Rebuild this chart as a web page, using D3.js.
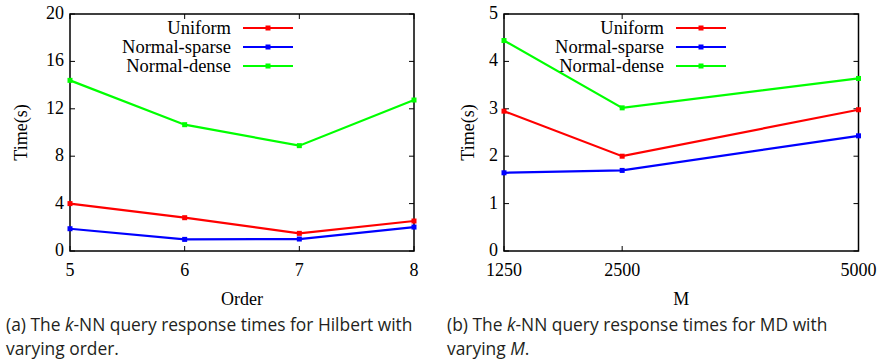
<!DOCTYPE html>
<html><head><meta charset="utf-8">
<script src="https://cdn.jsdelivr.net/npm/d3@7"></script>
<style>
body{margin:0;background:#fff;}
svg{display:block;}
</style></head>
<body>
<svg id="c" width="882" height="360"></svg>
<script>
const seriesNames = ["Uniform", "Normal-sparse", "Normal-dense"];
const seriesColors = ["#ff0000", "#0000ff", "#00ff00"];

// Chart (a)
const orderX = [5, 6, 7, 8];
const orderUniform = [4.0, 2.81, 1.49, 2.53];
const orderSparse = [1.88, 0.98, 1.01, 2.02];
const orderDense = [14.4, 10.66, 8.89, 12.74];
const orderYTicks = [0, 4, 8, 12, 16, 20];

// Chart (b)
const mX = [1250, 2500, 5000];
const mUniform = [2.95, 2.00, 2.98];
const mSparse = [1.65, 1.70, 2.43];
const mDense = [4.44, 3.02, 3.64];
const mYTicks = [0, 1, 2, 3, 4, 5];

const svg = d3.select("#c");
const serif = "'Liberation Serif','Times New Roman',serif";
const sans = "'Open Sans','Noto Sans',sans-serif";

function panel(cfg){
  const g = svg.append("g");
  const x = d3.scaleLinear().domain(cfg.xDomain).range([cfg.left, cfg.right]);
  const y = d3.scaleLinear().domain(cfg.yDomain).range([cfg.bottom, cfg.top]);
  const tl = 5;
  const ax = g.append("g").attr("stroke","#000").attr("stroke-width",1);
  cfg.xTicks.forEach(t=>{
    ax.append("line").attr("x1",x(t)).attr("x2",x(t)).attr("y1",cfg.bottom).attr("y2",cfg.bottom-tl);
    ax.append("line").attr("x1",x(t)).attr("x2",x(t)).attr("y1",cfg.top).attr("y2",cfg.top+tl);
  });
  cfg.yTicks.forEach(t=>{
    ax.append("line").attr("x1",cfg.left).attr("x2",cfg.left+tl).attr("y1",y(t)).attr("y2",y(t));
    ax.append("line").attr("x1",cfg.right).attr("x2",cfg.right-tl).attr("y1",y(t)).attr("y2",y(t));
  });
  g.append("rect").attr("x",cfg.left).attr("y",cfg.top)
    .attr("width",cfg.right-cfg.left).attr("height",cfg.bottom-cfg.top)
    .attr("fill","none").attr("stroke","#000").attr("stroke-width",1.5);
  cfg.xTicks.forEach(t=>{
    g.append("text").attr("x",x(t)).attr("y",cfg.bottom+25).attr("text-anchor","middle")
      .attr("font-family",serif).attr("font-size",18).text(t);
  });
  cfg.yTicks.forEach(t=>{
    g.append("text").attr("x",cfg.left-6).attr("y",y(t)+5).attr("text-anchor","end")
      .attr("font-family",serif).attr("font-size",18).text(t);
  });
  g.append("text").attr("transform",`translate(${cfg.yTitleX},${(cfg.top+cfg.bottom)/2}) rotate(-90)`)
    .attr("text-anchor","middle").attr("dy","0.35em").attr("font-family",serif).attr("font-size",18).text("Time(s)");
  g.append("text").attr("x",(cfg.left+cfg.right)/2).attr("y",cfg.bottom+54).attr("text-anchor","middle")
    .attr("font-family",serif).attr("font-size",18).text(cfg.xTitle);
  const line = d3.line().x(d=>x(d[0])).y(d=>y(d[1]));
  cfg.series.forEach((vals,i)=>{
    const pts = cfg.xVals.map((xv,j)=>[xv, vals[j]]);
    g.append("path").datum(pts).attr("d",line).attr("fill","none")
      .attr("stroke",seriesColors[i]).attr("stroke-width",2.2);
    g.selectAll(null).data(pts).enter().append("rect")
      .attr("x",d=>x(d[0])-2.5).attr("y",d=>y(d[1])-2.5).attr("width",5).attr("height",5)
      .attr("fill",seriesColors[i]);
  });
  seriesNames.forEach((n,i)=>{
    const ly = cfg.legY + i*19;
    g.append("text").attr("x",cfg.legTextX).attr("y",ly+6).attr("text-anchor","end")
      .attr("font-family",serif).attr("font-size",18.5).text(n);
    g.append("line").attr("x1",cfg.legTextX+12).attr("x2",cfg.legTextX+62).attr("y1",ly).attr("y2",ly)
      .attr("stroke",seriesColors[i]).attr("stroke-width",2.2);
    g.append("rect").attr("x",cfg.legTextX+37-2.5).attr("y",ly-2.5).attr("width",5).attr("height",5)
      .attr("fill",seriesColors[i]);
  });
  const cap = g.append("text").attr("font-family",sans).attr("font-size",17.4).attr("fill","#231f20");
  cfg.caption.forEach((line,li)=>{
    const t = cap.append("tspan").attr("x",cfg.capX).attr("y",cfg.capY + li*24);
    line.forEach(part=>{
      const s = t.append("tspan").text(part[0]);
      if(part[1]) s.attr("font-style","italic");
    });
  });
}

panel({
  left:70, right:414, top:14, bottom:251,
  xDomain:[5,8], yDomain:[0,20], xTicks:orderX, yTicks:orderYTicks,
  xVals:orderX, series:[orderUniform, orderSparse, orderDense],
  xTitle:"Order", yTitleX:21, legTextX:231, legY:28,
  capX:6, capY:331,
  caption:[[["(a) The "],["k",true],["-NN query response times for Hilbert with"]],[["varying order."]]]
});
panel({
  left:504, right:858.5, top:14, bottom:251,
  xDomain:[1250,5000], yDomain:[0,5], xTicks:mX, yTicks:mYTicks,
  xVals:mX, series:[mUniform, mSparse, mDense],
  xTitle:"M", yTitleX:468, legTextX:664, legY:28,
  capX:447, capY:331,
  caption:[[["(b) The "],["k",true],["-NN query response times for MD with"]],[["varying "],["M",true],["."]]]
});
</script>
</body></html>
